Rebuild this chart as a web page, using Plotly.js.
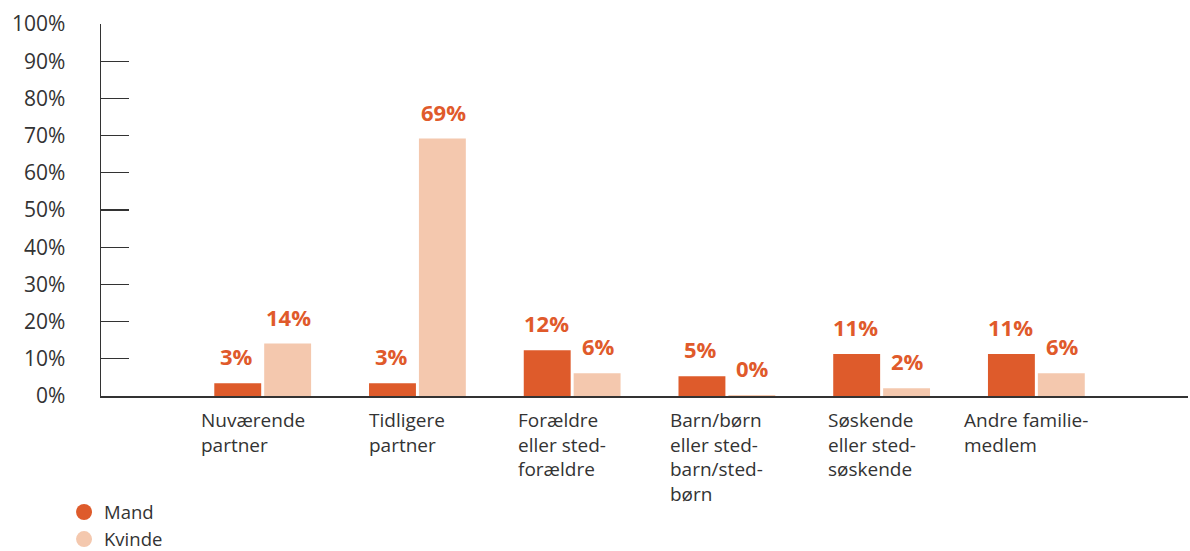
<!DOCTYPE html>
<html>
<head>
<meta charset="utf-8">
<script src="https://cdn.plot.ly/plotly-3.0.1.min.js"></script>
<style>html,body{margin:0;padding:0;background:#fff;}#chart{width:1190px;height:551px;}</style>
</head>
<body>
<div id="chart"></div>
<script>
const categories = ["Nuværende partner", "Tidligere partner", "Forældre eller sted-forældre", "Barn/børn eller sted-barn/sted-børn", "Søskende eller sted-søskende", "Andre familie-medlem"];
const categoryLabels = ["Nuværende<br>partner", "Tidligere<br>partner", "Forældre<br>eller sted-<br>forældre", "Barn/børn<br>eller sted-<br>barn/sted-<br>børn", "Søskende<br>eller sted-<br>søskende", "Andre familie-<br>medlem"];
const mand = [3.4, 3.4, 12.3, 5.3, 11.3, 11.3];
const kvinde = [14.1, 69.2, 6.1, 0.3, 2.1, 6.1];
const seriesNames = ["Mand", "Kvinde"];
const yTickVals = [0,10,20,30,40,50,60,70,80,90,100];
const yTickText = yTickVals.map(v => v + "%");

const FONT = "Open Sans, sans-serif";
const cMand = "#DE5B2B";
const cKvinde = "#F4C8AE";
const cLabel = "#E05A2B";
const cText = "#333333";

const traces = [
  {type: "bar", x: categories, y: mand, name: seriesNames[0], marker: {color: cMand}, showlegend: false, hoverinfo: "skip"},
  {type: "bar", x: categories, y: kvinde, name: seriesNames[1], marker: {color: cKvinde}, showlegend: false, hoverinfo: "skip"},
  {type: "scatter", mode: "markers", x: [null], y: [null], name: seriesNames[0], marker: {color: cMand, size: 19, symbol: "circle"}, showlegend: true},
  {type: "scatter", mode: "markers", x: [null], y: [null], name: seriesNames[1], marker: {color: cKvinde, size: 19, symbol: "circle"}, showlegend: true}
];

const annotations = [];
const offset = 26;
categories.forEach((c, i) => {
  annotations.push({x: c, y: mand[i], xref: "x", yref: "y", text: Math.round(mand[i]) + "%", showarrow: false,
    xanchor: "center", yanchor: "bottom", xshift: -offset, yshift: 10,
    font: {family: FONT, size: 22, color: cLabel, weight: 700}});
  annotations.push({x: c, y: kvinde[i], xref: "x", yref: "y", text: Math.round(kvinde[i]) + "%", showarrow: false,
    xanchor: "center", yanchor: "bottom", xshift: offset, yshift: 10,
    font: {family: FONT, size: 22, color: cLabel, weight: 700}});
  annotations.push({x: c, y: 0, xref: "x", yref: "paper", text: categoryLabels[i], showarrow: false,
    xanchor: "center", yanchor: "top", align: "left", xshift: -10, yshift: -9,
    font: {family: FONT, size: 19, color: cText}});
});

const layout = {
  width: 1190, height: 551,
  margin: {l: 101, r: 2, t: 24, b: 155, autoexpand: false},
  paper_bgcolor: "#fff", plot_bgcolor: "#fff",
  font: {family: FONT, color: cText},
  barmode: "group",
  bargap: 0.355,
  bargroupgap: 0.06,
  showlegend: true,
  legend: {x: -0.034, xanchor: "left", y: -0.262, yanchor: "top", orientation: "v",
    font: {family: FONT, size: 18.5, color: cText}, bgcolor: "rgba(0,0,0,0)", itemwidth: 30},
  xaxis: {type: "category", range: [-1.045, 5.98], showticklabels: false, ticks: "",
    showline: true, linecolor: "#333", linewidth: 1.5, showgrid: false, zeroline: false, fixedrange: true},
  yaxis: {range: [0, 100], tickvals: yTickVals, ticktext: yTickText, ticks: "inside", ticklen: 28,
    tickcolor: "#333", tickwidth: 1.2, showline: true, linecolor: "#333", linewidth: 1.5,
    showgrid: false, zeroline: false, ticklabelstandoff: 30,
    tickfont: {family: FONT, size: 21, color: cText}, fixedrange: true},
  annotations: annotations
};

Plotly.newPlot("chart", traces, layout, {displayModeBar: false, staticPlot: true});
</script>
</body>
</html>
